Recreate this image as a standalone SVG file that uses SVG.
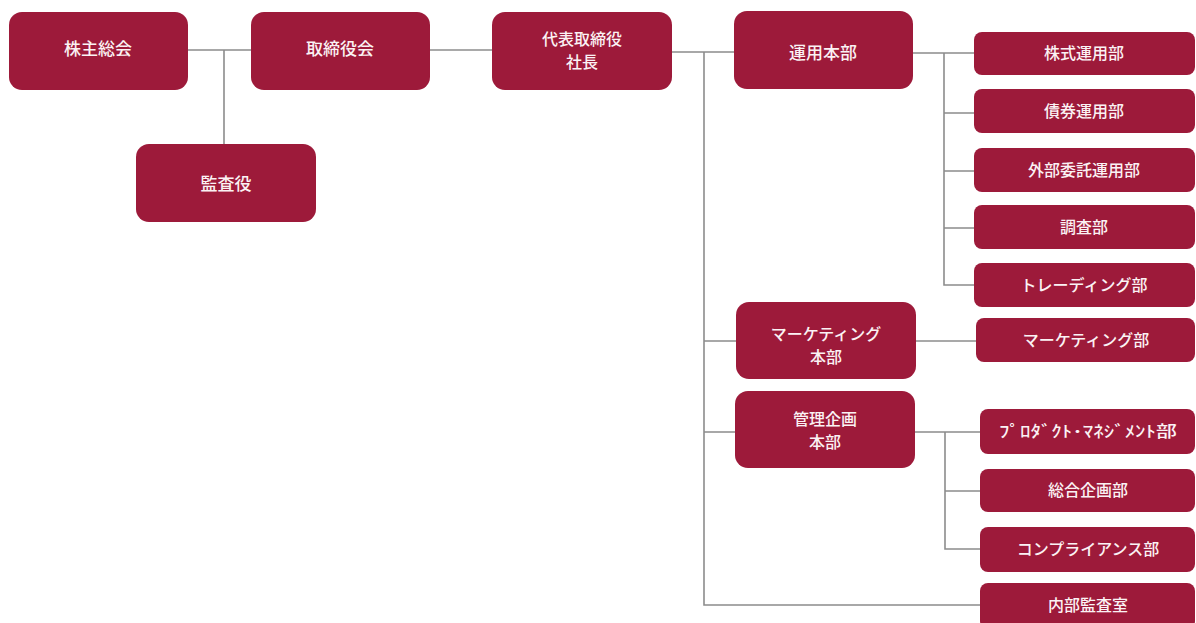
<svg xmlns="http://www.w3.org/2000/svg" width="1196" height="623" viewBox="0 0 1196 623">
<style>
.b{fill:#9d1a3a}
.t{fill:#fbf2f4;font-family:"Noto Sans CJK JP","Noto Sans CJK SC",sans-serif;font-size:17px;font-weight:500;text-anchor:middle}
.s{font-size:16px}
.c{fill:none;stroke:#8c8c8c;stroke-width:1.6}
</style>
<rect width="1196" height="623" fill="#ffffff"/>
<g id="connectors" class="c">
<path d="M188 50H251M224 50V144"/>
<path d="M430 50H492"/>
<path d="M672 52H734M704 52V605H980M704 341H736M704 432H735"/>
<path d="M913 53H974M944 53V285H974M944 113H974M944 171H974M944 228H974"/>
<path d="M916 341H976"/>
<path d="M915 432H980M945 432V549H980M945 491H980"/>
</g>
<g id="n1"><rect class="b" x="9" y="12" width="179" height="78" rx="13"/><text class="t" x="98" y="55">株主総会</text></g>
<g id="n2"><rect class="b" x="251" y="12" width="179" height="78" rx="13"/><text class="t" x="340" y="55">取締役会</text></g>
<g id="n3"><rect class="b" x="136" y="144" width="180" height="78" rx="13"/><text class="t" x="226" y="190">監査役</text></g>
<g id="n4"><rect class="b" x="492" y="12" width="180" height="78" rx="13"/><text class="t s" x="582" y="45">代表取締役</text><text class="t s" x="582" y="68">社長</text></g>
<g id="n5"><rect class="b" x="734" y="11" width="179" height="78" rx="13"/><text class="t" x="823" y="59">運用本部</text></g>
<g id="n6"><rect class="b" x="974" y="32" width="221" height="43" rx="8"/><text class="t s" x="1084" y="59">株式運用部</text></g>
<g id="n7"><rect class="b" x="974" y="89" width="221" height="44" rx="8"/><text class="t s" x="1084" y="117">債券運用部</text></g>
<g id="n8"><rect class="b" x="974" y="148" width="221" height="44" rx="8"/><text class="t s" x="1084" y="176">外部委託運用部</text></g>
<g id="n9"><rect class="b" x="974" y="205" width="221" height="44" rx="8"/><text class="t s" x="1084" y="233">調査部</text></g>
<g id="n10"><rect class="b" x="974" y="263" width="221" height="44" rx="8"/><text class="t s" x="1084" y="291">トレーディング部</text></g>
<g id="n11"><rect class="b" x="736" y="302" width="180" height="77" rx="13"/><text class="t s" x="826" y="340">マーケティング</text><text class="t s" x="826" y="363">本部</text></g>
<g id="n12"><rect class="b" x="976" y="318" width="219" height="44" rx="8"/><text class="t s" x="1086" y="346">マーケティング部</text></g>
<g id="n13"><rect class="b" x="735" y="391" width="180" height="77" rx="13"/><text class="t s" x="825" y="425">管理企画</text><text class="t s" x="825" y="448">本部</text></g>
<g id="n14"><rect class="b" x="980" y="409" width="215" height="45" rx="8"/><text class="t s" x="1088" y="437" textLength="178" lengthAdjust="spacingAndGlyphs">ﾌﾟﾛﾀﾞｸﾄ･ﾏﾈｼﾞﾒﾝﾄ部</text></g>
<g id="n15"><rect class="b" x="980" y="469" width="215" height="43" rx="8"/><text class="t s" x="1088" y="496">総合企画部</text></g>
<g id="n16"><rect class="b" x="980" y="527" width="215" height="45" rx="8"/><text class="t s" x="1088" y="555">コンプライアンス部</text></g>
<g id="n17"><rect class="b" x="980" y="583" width="215" height="46" rx="8"/><text class="t s" x="1088" y="611">内部監査室</text></g>
</svg>
